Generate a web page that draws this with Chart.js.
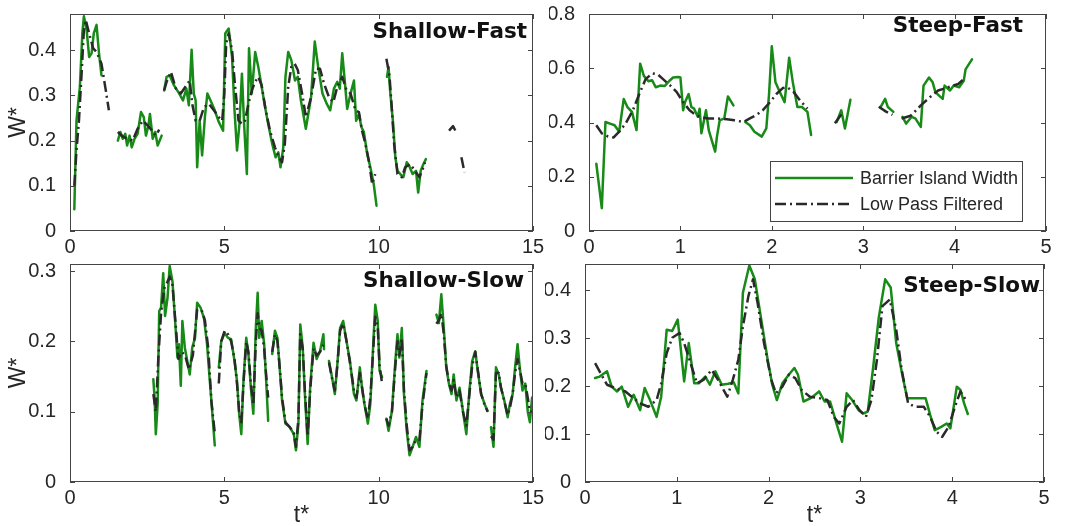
<!DOCTYPE html>
<html>
<head>
<meta charset="utf-8">
<script src="https://cdn.jsdelivr.net/npm/chart.js@4.4.0/dist/chart.umd.min.js"></script>
<style>
  html, body { margin: 0; padding: 0; background: #fff; }
  #wrap { position: relative; width: 1065px; height: 526px; }
  canvas { position: absolute; left: 0; top: 0; }
</style>
</head>
<body>
<div id="wrap">
  <canvas id="c1" width="1065" height="526"></canvas>
  <canvas id="c2" width="1065" height="526"></canvas>
  <canvas id="c3" width="1065" height="526"></canvas>
  <canvas id="c4" width="1065" height="526"></canvas>
</div>
<script>
// [t*, W*] pairs, null = gap in the record
const shallowFastWidth = [
  [0.14,0.048],[0.21,0.244],[0.32,0.319],[0.40,0.437],[0.45,0.475],[0.54,0.444],[0.62,0.385],[0.70,0.393],[0.77,0.437],[0.86,0.456],[0.94,0.393],[1.02,0.344],
  null,
  [1.55,0.200],[1.63,0.219],[1.71,0.204],[1.79,0.215],[1.85,0.189],[1.93,0.211],[2.00,0.185],[2.09,0.204],[2.19,0.215],[2.30,0.263],[2.39,0.252],[2.46,0.211],[2.54,0.233],[2.59,0.259],[2.68,0.204],[2.76,0.219],[2.84,0.189],[2.97,0.211],
  null,
  [3.05,0.311],[3.13,0.341],[3.23,0.344],[3.37,0.322],[3.53,0.305],[3.66,0.289],[3.77,0.315],[3.85,0.278],[3.94,0.401],[4.01,0.304],[4.07,0.289],[4.12,0.141],[4.20,0.244],[4.28,0.167],[4.37,0.252],[4.45,0.304],[4.55,0.289],[4.69,0.267],[4.82,0.241],[4.96,0.222],
  [5.03,0.437],[5.14,0.448],[5.25,0.385],[5.33,0.267],[5.41,0.178],[5.49,0.237],[5.57,0.348],[5.64,0.237],[5.73,0.126],[5.80,0.404],[5.89,0.304],[6.00,0.396],[6.10,0.363],[6.21,0.319],[6.32,0.274],[6.42,0.237],[6.55,0.193],[6.66,0.163],[6.75,0.174],[6.82,0.141],[6.91,0.185],[6.98,0.341],
  [7.07,0.396],[7.17,0.378],[7.29,0.333],[7.38,0.341],[7.48,0.289],[7.64,0.226],[7.81,0.296],[7.93,0.419],[8.04,0.363],[8.18,0.304],[8.32,0.281],[8.43,0.267],[8.55,0.315],[8.66,0.330],[8.74,0.315],[8.82,0.393],[8.90,0.333],[8.98,0.270],
  [9.09,0.304],[9.20,0.333],[9.27,0.244],[9.36,0.259],[9.44,0.230],[9.52,0.219],[9.63,0.170],[9.73,0.141],[9.84,0.104],[9.93,0.056],
  null,
  [10.27,0.341],[10.32,0.363],[10.37,0.311],[10.46,0.244],[10.54,0.163],[10.61,0.133],[10.70,0.126],[10.80,0.119],[10.91,0.152],[10.99,0.144],[11.10,0.126],[11.21,0.133],[11.28,0.085],[11.36,0.133],[11.45,0.148],[11.53,0.159]
];
const shallowFastFiltered = [
  [0.14,0.100],[0.21,0.178],[0.29,0.244],[0.37,0.341],[0.45,0.444],[0.51,0.467],[0.62,0.437],[0.75,0.404],[0.86,0.396],[1.02,0.370],[1.16,0.311],[1.26,0.267],
  null,
  [1.55,0.219],[1.71,0.209],[1.87,0.204],[2.03,0.200],[2.19,0.226],[2.36,0.244],[2.52,0.233],[2.66,0.222],[2.78,0.211],[2.89,0.224],
  null,
  [3.05,0.311],[3.13,0.330],[3.27,0.352],[3.43,0.315],[3.59,0.304],[3.77,0.322],[3.88,0.333],[3.96,0.281],[4.07,0.244],[4.20,0.244],[4.34,0.274],[4.50,0.281],[4.66,0.267],[4.82,0.252],[4.93,0.244],
  [5.00,0.304],[5.06,0.415],[5.14,0.437],[5.25,0.400],[5.35,0.319],[5.46,0.244],[5.57,0.237],[5.67,0.244],[5.78,0.281],[5.89,0.311],[6.00,0.330],[6.10,0.341],[6.21,0.322],[6.34,0.267],[6.48,0.222],[6.64,0.185],[6.77,0.163],[6.87,0.152],[6.96,0.193],
  [7.07,0.319],[7.17,0.363],[7.28,0.370],[7.38,0.356],[7.54,0.296],[7.64,0.252],[7.81,0.296],[7.97,0.359],[8.10,0.359],[8.23,0.326],[8.39,0.296],[8.53,0.285],[8.66,0.319],[8.82,0.341],[8.96,0.311],
  [9.09,0.304],[9.25,0.267],[9.36,0.263],[9.46,0.222],[9.57,0.193],[9.68,0.156],[9.79,0.104],[9.89,0.126],
  null,
  [10.25,0.381],[10.35,0.344],[10.43,0.267],[10.50,0.193],[10.61,0.126],[10.75,0.119],[10.86,0.141],[11.02,0.148],[11.18,0.133],[11.32,0.119],[11.45,0.141],[11.50,0.152],
  null,
  [12.28,0.222],[12.41,0.232],[12.52,0.217],
  null,
  [12.68,0.163],[12.78,0.130]
];

const steepFastWidth = [
  [0.08,0.248],[0.14,0.084],[0.18,0.402],[0.23,0.396],[0.28,0.390],[0.33,0.366],[0.38,0.487],[0.42,0.457],[0.47,0.439],[0.52,0.372],[0.56,0.617],[0.60,0.572],[0.65,0.552],[0.69,0.556],[0.73,0.530],[0.78,0.536],[0.83,0.535],[0.88,0.554],[0.92,0.566],[0.98,0.568],
  [1.00,0.566],[1.03,0.445],[1.05,0.475],[1.09,0.505],[1.12,0.457],[1.15,0.451],[1.19,0.421],[1.21,0.451],[1.23,0.360],[1.28,0.445],[1.31,0.372],[1.38,0.293],[1.40,0.348],[1.43,0.408],[1.48,0.415],[1.52,0.496],[1.58,0.463],
  null,
  [1.71,0.402],[1.76,0.390],[1.81,0.366],[1.89,0.348],[1.94,0.378],[1.97,0.505],[2.00,0.681],[2.04,0.548],[2.08,0.518],[2.14,0.475],[2.19,0.639],[2.23,0.548],[2.28,0.457],[2.33,0.457],[2.39,0.439],[2.43,0.354],
  null,
  [2.71,0.402],[2.76,0.445],[2.80,0.378],[2.86,0.484],
  null,
  [3.19,0.457],[3.24,0.487],[3.27,0.457],[3.33,0.439],
  null,
  [3.43,0.421],[3.47,0.396],[3.53,0.421],[3.57,0.415],[3.63,0.384],[3.66,0.536],[3.72,0.566],[3.76,0.548],[3.79,0.512],[3.83,0.499],[3.87,0.487],[3.89,0.536],[3.95,0.518],[3.99,0.536],[4.05,0.530],[4.10,0.554],[4.12,0.596],[4.19,0.633]
];
const steepFastFiltered = [
  [0.08,0.390],[0.14,0.360],[0.21,0.348],[0.27,0.345],[0.33,0.366],[0.40,0.396],[0.48,0.445],[0.55,0.505],[0.62,0.560],[0.69,0.581],[0.75,0.578],[0.81,0.560],[0.89,0.536],[0.96,0.512],
  [1.03,0.475],[1.10,0.445],[1.17,0.427],[1.24,0.418],[1.31,0.415],[1.40,0.415],[1.51,0.412],[1.59,0.408],[1.69,0.402],[1.76,0.415],[1.83,0.427],[1.90,0.445],[1.98,0.475],
  [2.05,0.505],[2.12,0.527],[2.17,0.530],[2.24,0.512],[2.31,0.481],[2.39,0.451],
  null,
  [2.69,0.397],[2.78,0.439],
  null,
  [3.17,0.458],[3.25,0.440],[3.32,0.428],
  null,
  [3.42,0.415],[3.52,0.425],[3.63,0.463],[3.75,0.499],[3.82,0.518],[3.93,0.530],[4.04,0.542],[4.12,0.566]
];

const shallowSlowWidth = [
  [2.70,0.146],[2.74,0.120],[2.78,0.068],[2.84,0.111],[2.89,0.243],[2.95,0.248],[3.02,0.297],[3.08,0.236],[3.16,0.262],[3.23,0.307],[3.32,0.285],[3.40,0.233],[3.48,0.177],[3.53,0.196],[3.59,0.137],[3.64,0.229],[3.72,0.191],[3.80,0.172],[3.88,0.153],[3.96,0.191],
  [4.05,0.205],[4.12,0.255],[4.23,0.248],[4.34,0.233],[4.44,0.196],[4.52,0.149],[4.58,0.116],[4.63,0.087],[4.69,0.052],
  null,
  [4.82,0.163],[4.90,0.200],[5.01,0.212],[5.12,0.205],[5.22,0.203],[5.33,0.172],[5.41,0.144],[5.48,0.097],[5.55,0.068],[5.62,0.144],[5.71,0.205],[5.78,0.182],[5.86,0.134],[5.94,0.097],[6.02,0.219],[6.08,0.269],[6.13,0.205],[6.21,0.229],[6.29,0.196],[6.35,0.149],[6.42,0.087],
  null,
  [6.55,0.182],[6.64,0.215],[6.72,0.205],[6.80,0.158],[6.87,0.116],[6.98,0.083],[7.12,0.078],[7.25,0.068],[7.32,0.045],[7.40,0.083],[7.46,0.224],[7.54,0.191],[7.61,0.125],[7.70,0.054],[7.78,0.134],[7.89,0.198],[7.99,0.175],[8.10,0.186],[8.21,0.210],[8.23,0.189],
  null,
  [8.39,0.172],[8.50,0.146],[8.58,0.125],[8.66,0.167],[8.75,0.219],[8.85,0.229],[8.96,0.200],[9.07,0.172],[9.20,0.125],[9.28,0.116],[9.39,0.163],[9.46,0.134],[9.54,0.111],[9.65,0.083],[9.73,0.111],[9.84,0.210],[9.89,0.252],[9.97,0.229],[10.03,0.158],[10.11,0.149],
  null,
  [10.25,0.090],[10.32,0.073],[10.43,0.101],[10.54,0.172],[10.61,0.210],[10.67,0.177],[10.75,0.219],[10.82,0.125],[10.91,0.073],[11.00,0.038],[11.10,0.050],[11.21,0.064],[11.32,0.050],[11.42,0.116],[11.55,0.158],
  null,
  [11.87,0.238],[11.95,0.226],[12.03,0.267],[12.11,0.219],[12.19,0.163],[12.28,0.139],[12.36,0.125],[12.43,0.153],[12.52,0.116],[12.62,0.134],[12.73,0.101],[12.84,0.068],[12.94,0.130],[13.03,0.172],[13.13,0.186],[13.21,0.158],[13.32,0.125],[13.43,0.111],[13.53,0.101],
  null,
  [13.64,0.078],[13.72,0.050],[13.80,0.163],[13.89,0.153],[13.96,0.134],[14.07,0.116],[14.18,0.092],[14.25,0.111],[14.34,0.125],[14.42,0.163],[14.50,0.196],[14.57,0.163],[14.66,0.130],[14.75,0.140],[14.83,0.100],[14.90,0.085],[14.97,0.120]
];
const shallowSlowFiltered = [
  [2.70,0.125],[2.78,0.100],[2.86,0.175],[2.95,0.240],[3.05,0.275],[3.16,0.285],[3.23,0.292],[3.32,0.280],[3.43,0.220],[3.51,0.175],[3.62,0.185],[3.73,0.180],[3.85,0.160],[3.98,0.180],[4.12,0.245],[4.26,0.245],[4.37,0.230],[4.48,0.190],[4.58,0.115],[4.69,0.070],
  null,
  [4.82,0.140],[4.90,0.200],[5.01,0.215],[5.12,0.210],[5.22,0.200],[5.33,0.175],[5.41,0.140],[5.48,0.100],[5.55,0.085],[5.62,0.140],[5.71,0.200],[5.78,0.185],[5.86,0.140],[5.94,0.110],[6.02,0.200],[6.08,0.240],[6.13,0.220],[6.21,0.215],[6.29,0.190],[6.35,0.155],[6.42,0.120],
  null,
  [6.55,0.185],[6.64,0.210],[6.72,0.200],[6.80,0.160],[6.87,0.120],[6.98,0.085],[7.12,0.078],[7.25,0.070],[7.32,0.050],[7.40,0.090],[7.46,0.210],[7.54,0.190],[7.61,0.130],[7.70,0.065],[7.78,0.130],[7.89,0.190],[7.99,0.180],[8.10,0.185],[8.21,0.195],
  null,
  [8.39,0.170],[8.50,0.145],[8.58,0.130],[8.66,0.165],[8.75,0.215],[8.85,0.225],[8.96,0.200],[9.07,0.170],[9.20,0.130],[9.28,0.120],[9.39,0.155],[9.46,0.135],[9.54,0.110],[9.65,0.090],[9.73,0.120],[9.84,0.200],[9.89,0.235],[9.97,0.220],[10.03,0.165],[10.11,0.140],
  null,
  [10.25,0.090],[10.32,0.080],[10.43,0.100],[10.54,0.165],[10.61,0.200],[10.67,0.180],[10.75,0.205],[10.82,0.130],[10.91,0.080],[11.00,0.045],[11.10,0.050],[11.21,0.060],[11.32,0.060],[11.42,0.110],[11.55,0.155],
  null,
  [11.87,0.225],[11.95,0.230],[12.03,0.240],[12.11,0.210],[12.19,0.165],[12.28,0.140],[12.36,0.130],[12.43,0.145],[12.52,0.120],[12.62,0.130],[12.73,0.100],[12.84,0.080],[12.94,0.125],[13.03,0.165],[13.13,0.185],[13.21,0.160],[13.32,0.125],[13.43,0.110],[13.53,0.100],
  null,
  [13.64,0.065],[13.72,0.060],[13.80,0.155],[13.89,0.155],[13.96,0.135],[14.07,0.115],[14.18,0.095],[14.25,0.105],[14.34,0.125],[14.42,0.155],[14.50,0.175],[14.57,0.160],[14.66,0.140],[14.75,0.140],[14.83,0.120],[14.90,0.100],[14.97,0.100]
];

const steepSlowWidth = [
  [0.11,0.217],[0.16,0.220],[0.24,0.231],[0.29,0.199],[0.35,0.189],[0.40,0.199],[0.47,0.157],[0.53,0.182],[0.60,0.150],[0.65,0.196],[0.70,0.175],[0.78,0.136],[0.83,0.178],[0.89,0.318],[0.95,0.315],
  [1.01,0.339],[1.08,0.210],[1.13,0.290],[1.19,0.206],[1.24,0.206],[1.31,0.220],[1.36,0.203],[1.42,0.231],[1.49,0.203],[1.56,0.205],[1.62,0.208],[1.67,0.185],[1.72,0.395],[1.79,0.452],[1.85,0.423],[1.92,0.339],[1.99,0.255],
  [2.04,0.203],[2.09,0.171],[2.15,0.206],[2.22,0.224],[2.28,0.238],[2.32,0.224],[2.38,0.168],[2.46,0.175],[2.55,0.189],[2.61,0.168],[2.67,0.168],[2.74,0.122],[2.80,0.084],[2.85,0.185],[2.91,0.171],[2.98,0.150],
  [3.03,0.143],[3.08,0.147],[3.14,0.241],[3.20,0.343],[3.27,0.423],[3.33,0.406],[3.39,0.290],[3.46,0.220],[3.51,0.175],[3.62,0.175],[3.71,0.175],[3.76,0.140],[3.81,0.108],[3.88,0.115],[3.94,0.122],[3.98,0.112],
  [4.05,0.199],[4.09,0.192],[4.13,0.164],[4.17,0.142]
];
const steepSlowFiltered = [
  [0.11,0.248],[0.19,0.220],[0.24,0.203],[0.33,0.196],[0.44,0.189],[0.51,0.178],[0.60,0.164],[0.69,0.157],[0.78,0.171],[0.83,0.206],[0.89,0.269],[0.95,0.301],
  [1.03,0.311],[1.08,0.290],[1.15,0.248],[1.22,0.206],[1.29,0.213],[1.38,0.234],[1.45,0.213],[1.55,0.178],[1.61,0.213],[1.67,0.255],[1.72,0.325],[1.78,0.388],[1.83,0.423],[1.88,0.374],[1.95,0.290],
  [2.03,0.213],[2.08,0.185],[2.15,0.199],[2.22,0.224],[2.29,0.217],[2.36,0.192],[2.45,0.178],[2.55,0.175],[2.64,0.171],[2.71,0.136],[2.77,0.122],[2.85,0.157],[2.92,0.171],[2.99,0.150],
  [3.06,0.136],[3.12,0.171],[3.18,0.255],[3.24,0.367],[3.32,0.381],[3.39,0.318],[3.45,0.234],[3.52,0.164],[3.60,0.157],[3.69,0.157],[3.76,0.136],[3.83,0.105],[3.89,0.094],[3.96,0.115],
  [4.03,0.157],[4.09,0.189],[4.15,0.171]
];

const leftTicksX = [0, 5, 10, 15];
const rightTicksX = [0, 1, 2, 3, 4, 5];
const shallowFastTicksY = [0, 0.1, 0.2, 0.3, 0.4];
const steepFastTicksY = [0, 0.2, 0.4, 0.6, 0.8];
const shallowSlowTicksY = [0, 0.1, 0.2, 0.3];
const steepSlowTicksY = [0, 0.1, 0.2, 0.3, 0.4];

const GREEN = '#178a17';
const DARK = '#2a2a2a';
const FRAME = '#444';
const TEXT = '#262626';
const SANS = '"Liberation Sans", Arial, sans-serif';
const TICKFONT = { family: SANS, size: 20 };

function toPoints(pairs) {
  const pts = [];
  let lastX = 0;
  pairs.forEach(p => {
    if (p === null) pts.push({ x: lastX, y: null });
    else { pts.push({ x: p[0], y: p[1] }); lastX = p[0]; }
  });
  return pts;
}

// box, inward ticks, panel name and legend drawn MATLAB-style
const panelDecor = {
  id: 'panelDecor',
  afterDraw(chart, args, opts) {
    const { ctx, chartArea: a } = chart;
    const xs = chart.scales.x, ys = chart.scales.y;
    const T = 5;
    ctx.save();
    ctx.strokeStyle = FRAME;
    ctx.lineWidth = 1;
    ctx.strokeRect(Math.round(a.left) + 0.5, Math.round(a.top) + 0.5,
      Math.round(a.right - a.left) - 1, Math.round(a.bottom - a.top) - 1);
    ctx.beginPath();
    xs.ticks.forEach(t => {
      const px = Math.round(xs.getPixelForValue(t.value)) + 0.5;
      ctx.moveTo(px, a.bottom); ctx.lineTo(px, a.bottom - T);
      ctx.moveTo(px, a.top); ctx.lineTo(px, a.top + T);
    });
    ys.ticks.forEach(t => {
      const py = Math.round(ys.getPixelForValue(t.value)) + 0.5;
      ctx.moveTo(a.left, py); ctx.lineTo(a.left + T, py);
      ctx.moveTo(a.right, py); ctx.lineTo(a.right - T, py);
    });
    ctx.stroke();

    ctx.fillStyle = '#111';
    ctx.font = 'bold 21.5px "DejaVu Sans", Verdana, sans-serif';
    ctx.textAlign = 'right';
    ctx.textBaseline = 'alphabetic';
    ctx.fillText(opts.title, a.right - opts.titleDx, a.top + opts.titleDy);

    if (opts.legend) {
      const w = 252, h = 60;
      const bx = a.right - 24 - w, by = a.bottom - 10 - h;
      ctx.fillStyle = '#fff';
      ctx.fillRect(bx, by, w, h);
      ctx.strokeStyle = FRAME;
      ctx.strokeRect(Math.round(bx) + 0.5, Math.round(by) + 0.5, w, h);
      const items = [chart.data.datasets[1], chart.data.datasets[0]];
      items.forEach((ds, i) => {
        const ly = by + 17 + i * 26;
        ctx.beginPath();
        ctx.strokeStyle = ds.borderColor;
        ctx.lineWidth = ds.borderWidth;
        ctx.setLineDash(ds.borderDash || []);
        ctx.moveTo(bx + 5, ly); ctx.lineTo(bx + 83, ly);
        ctx.stroke();
        ctx.setLineDash([]);
        ctx.fillStyle = TEXT;
        ctx.font = '18px ' + SANS;
        ctx.textAlign = 'left';
        ctx.textBaseline = 'middle';
        ctx.fillText(ds.label, bx + 90, ly + 1);
      });
    }
    ctx.restore();
  }
};

function makePanel(id, p) {
  new Chart(document.getElementById(id), {
    type: 'line',
    data: {
      datasets: [
        { label: 'Low Pass Filtered', data: toPoints(p.filtered), borderColor: DARK, borderWidth: 2.5,
          borderDash: [11, 4, 2, 4], borderCapStyle: 'butt', order: 1 },
        { label: 'Barrier Island Width', data: toPoints(p.width), borderColor: GREEN, borderWidth: 2.5,
          borderCapStyle: 'round', order: 2 }
      ]
    },
    options: {
      responsive: false,
      animation: false,
      spanGaps: false,
      layout: { padding: p.pad },
      elements: { point: { radius: 0 }, line: { tension: 0, borderJoinStyle: 'round' } },
      plugins: {
        legend: { display: false },
        tooltip: { enabled: false },
        panelDecor: { title: p.title, titleDx: p.titleDx, titleDy: p.titleDy, legend: !!p.legend }
      },
      scales: {
        x: {
          type: 'linear', min: 0, max: p.xMax,
          grid: { display: false }, border: { display: false },
          ticks: { font: TICKFONT, color: TEXT, padding: -4, maxRotation: 0, autoSkip: false, callback: v => String(v) },
          afterBuildTicks: s => { s.ticks = p.xTicks.map(v => ({ value: v })); },
          afterFit: s => { s.height = p.xAxisH; s.paddingLeft = 0; s.paddingRight = 0; },
          title: { display: !!p.xTitle, text: 't*', color: TEXT,
            font: { family: SANS, size: 23 }, padding: { top: 0, bottom: -3 } }
        },
        y: {
          type: 'linear', min: 0, max: p.yMax,
          grid: { display: false }, border: { display: false },
          ticks: { font: TICKFONT, color: TEXT, padding: 6, autoSkip: false, callback: v => String(v) },
          afterBuildTicks: s => { s.ticks = p.yTicks.map(v => ({ value: v })); },
          afterFit: s => { s.width = p.yAxisW; s.paddingTop = 0; s.paddingBottom = 0; },
          title: { display: !!p.yTitle, text: 'W*', color: TEXT,
            font: { family: SANS, size: 23 }, padding: { top: 5, bottom: 0 } }
        }
      }
    },
    plugins: [panelDecor]
  });
}

makePanel('c1', {
  width: shallowFastWidth, filtered: shallowFastFiltered, title: 'Shallow-Fast', titleDx: 6, titleDy: 24,
  xMax: 15, yMax: 0.48, xTicks: leftTicksX, yTicks: shallowFastTicksY,
  yAxisW: 70, xAxisH: 30, yTitle: true,
  pad: { left: 0, top: 14, right: 532, bottom: 265 }
});
makePanel('c2', {
  width: steepFastWidth, filtered: steepFastFiltered, title: 'Steep-Fast', titleDx: 23, titleDy: 18, legend: true,
  xMax: 5, yMax: 0.8, xTicks: rightTicksX, yTicks: steepFastTicksY,
  yAxisW: 40, xAxisH: 30,
  pad: { left: 549, top: 14, right: 19, bottom: 265 }
});
makePanel('c3', {
  width: shallowSlowWidth, filtered: shallowSlowFiltered, title: 'Shallow-Slow', titleDx: 9, titleDy: 23,
  xMax: 15, yMax: 0.31, xTicks: leftTicksX, yTicks: shallowSlowTicksY,
  yAxisW: 70, xAxisH: 44, yTitle: true, xTitle: true,
  pad: { left: 0, top: 264, right: 532, bottom: 0 }
});
makePanel('c4', {
  width: steepSlowWidth, filtered: steepSlowFiltered, title: 'Steep-Slow', titleDx: 4, titleDy: 28,
  xMax: 5, yMax: 0.455, xTicks: rightTicksX, yTicks: steepSlowTicksY,
  yAxisW: 40, xAxisH: 44, xTitle: true,
  pad: { left: 545, top: 264, right: 21, bottom: 0 }
});
</script>
</body>
</html>
